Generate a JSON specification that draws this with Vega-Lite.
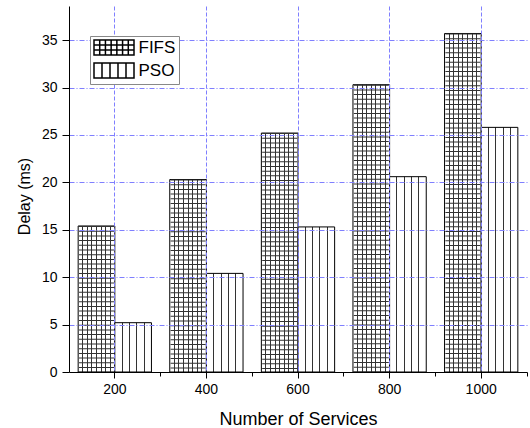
{
  "$schema": "https://vega.github.io/schema/vega-lite/v6.json",
  "width": 458,
  "height": 366,
  "autosize": {"type": "none"},
  "padding": {"left": 69, "top": 6, "right": 3, "bottom": 56},
  "background": "white",
  "config": {
    "view": {"stroke": null},
    "font": "Liberation Sans",
    "axis": {
      "domainColor": "black",
      "tickColor": "black",
      "labelColor": "black",
      "titleColor": "black",
      "titleFontWeight": "normal",
      "labelFont": "Liberation Sans",
      "titleFont": "Liberation Sans"
    }
  },
  "data": {
    "values": [
      {"n": 200, "series": "FIFS", "delay": 15.4},
      {"n": 400, "series": "FIFS", "delay": 20.3},
      {"n": 600, "series": "FIFS", "delay": 25.2},
      {"n": 800, "series": "FIFS", "delay": 30.3},
      {"n": 1000, "series": "FIFS", "delay": 35.7},
      {"n": 200, "series": "PSO", "delay": 5.2},
      {"n": 400, "series": "PSO", "delay": 10.4},
      {"n": 600, "series": "PSO", "delay": 15.3},
      {"n": 800, "series": "PSO", "delay": 20.6},
      {"n": 1000, "series": "PSO", "delay": 25.8}
    ]
  },
  "resolve": {"axis": {"x": "independent"}},
  "layer": [
    {
      "transform": [{"filter": "datum.series === 'FIFS'"}],
      "mark": {
        "type": "bar",
        "stroke": "black",
        "strokeWidth": 1,
        "fill": {
          "gradient": "linear", "x1": 0, "x2": 1, "y1": 0, "y2": 0,
          "stops": [
            {"offset": 0, "color": "white"},
            {"offset": 0.111, "color": "white"}, {"offset": 0.111, "color": "#333"}, {"offset": 0.139, "color": "#333"}, {"offset": 0.139, "color": "white"},
            {"offset": 0.236, "color": "white"}, {"offset": 0.236, "color": "#333"}, {"offset": 0.264, "color": "#333"}, {"offset": 0.264, "color": "white"},
            {"offset": 0.361, "color": "white"}, {"offset": 0.361, "color": "#333"}, {"offset": 0.389, "color": "#333"}, {"offset": 0.389, "color": "white"},
            {"offset": 0.486, "color": "white"}, {"offset": 0.486, "color": "#333"}, {"offset": 0.514, "color": "#333"}, {"offset": 0.514, "color": "white"},
            {"offset": 0.611, "color": "white"}, {"offset": 0.611, "color": "#333"}, {"offset": 0.639, "color": "#333"}, {"offset": 0.639, "color": "white"},
            {"offset": 0.736, "color": "white"}, {"offset": 0.736, "color": "#333"}, {"offset": 0.764, "color": "#333"}, {"offset": 0.764, "color": "white"},
            {"offset": 0.861, "color": "white"}, {"offset": 0.861, "color": "#333"}, {"offset": 0.889, "color": "#333"}, {"offset": 0.889, "color": "white"},
            {"offset": 1, "color": "white"}
          ]
        }
      },
      "encoding": {
        "x": {
          "field": "n", "type": "ordinal",
          "scale": {"paddingInner": 0.2, "paddingOuter": 0.1},
          "axis": {
            "title": "Number of Services", "orient": "bottom", "labelAngle": 0,
            "tickSize": 6, "labelPadding": 4, "labelFontSize": 14,
            "titleFontSize": 18, "titlePadding": 14,
            "grid": true, "gridColor": "#7f7fff", "gridDash": [4, 2],
            "bandPosition": 0.5, "zindex": 1
          }
        },
        "xOffset": {"field": "series", "type": "nominal", "scale": {"paddingInner": 0, "paddingOuter": 0}},
        "y": {
          "field": "delay", "type": "quantitative",
          "scale": {"domain": [0, 38.6], "nice": false},
          "axis": {
            "title": "Delay (ms)",
            "values": [0, 2.5, 5, 7.5, 10, 12.5, 15, 17.5, 20, 22.5, 25, 27.5, 30, 32.5, 35, 37.5],
            "labelExpr": "datum.value % 5 === 0 ? format(datum.value, 'd') : ''",
            "tickSize": {"condition": {"test": "datum.value % 5 === 0", "value": 7}, "value": 3},
            "labelPadding": 5, "labelFontSize": 14,
            "titleFontSize": 16, "titlePadding": 9, "titleY": 190,
            "grid": true, "gridColor": "#7f7fff", "gridDash": [5, 2, 1, 2],
            "gridOpacity": {"condition": {"test": "datum.value % 5 === 0 && datum.value > 0", "value": 1}, "value": 0},
            "zindex": 1
          }
        }
      }
    },
    {
      "transform": [{"filter": "datum.series === 'PSO'"}],
      "mark": {
        "type": "bar",
        "stroke": "black",
        "strokeWidth": 1,
        "fill": {
          "gradient": "linear", "x1": 0, "x2": 1, "y1": 0, "y2": 0,
          "stops": [
            {"offset": 0, "color": "white"},
            {"offset": 0.186, "color": "white"}, {"offset": 0.186, "color": "#333"}, {"offset": 0.214, "color": "#333"}, {"offset": 0.214, "color": "white"},
            {"offset": 0.386, "color": "white"}, {"offset": 0.386, "color": "#333"}, {"offset": 0.414, "color": "#333"}, {"offset": 0.414, "color": "white"},
            {"offset": 0.586, "color": "white"}, {"offset": 0.586, "color": "#333"}, {"offset": 0.614, "color": "#333"}, {"offset": 0.614, "color": "white"},
            {"offset": 0.786, "color": "white"}, {"offset": 0.786, "color": "#333"}, {"offset": 0.814, "color": "#333"}, {"offset": 0.814, "color": "white"},
            {"offset": 1, "color": "white"}
          ]
        }
      },
      "encoding": {
        "x": {"field": "n", "type": "ordinal", "axis": null},
        "xOffset": {"field": "series", "type": "nominal"},
        "y": {"field": "delay", "type": "quantitative"}
      }
    },
    {
      "transform": [{"filter": "datum.series === 'FIFS'"}],
      "mark": {"type": "rule", "strokeWidth": 35, "strokeDash": [1, 3.7], "color": "#333", "strokeCap": "butt"},
      "encoding": {
        "x": {"field": "n", "type": "ordinal", "axis": null},
        "xOffset": {"field": "series", "type": "nominal"},
        "y": {"field": "delay", "type": "quantitative"},
        "y2": {"datum": 0}
      }
    },
    {
      "mark": {"type": "point", "opacity": 0, "color": "black"},
      "encoding": {
        "x": {
          "field": "n", "type": "ordinal",
          "axis": {
            "orient": "bottom", "bandPosition": 1.125, "labels": false, "grid": false,
            "domain": false, "title": null, "tickSize": 4, "tickColor": "black"
          }
        },
        "xOffset": {"field": "series", "type": "nominal"},
        "y": {"field": "delay", "type": "quantitative"},
        "shape": {
          "field": "series", "type": "nominal",
          "scale": {
            "domain": ["FIFS", "PSO"],
            "range": [
              "M-2.667,-1H2.667V1H-2.667Z M-1.905,-1V1 M-1.143,-1V1 M-0.381,-1V1 M0.381,-1V1 M1.143,-1V1 M1.905,-1V1 M-2.667,-0.333H2.667 M-2.667,0.333H2.667",
              "M-2.667,-1H2.667V1H-2.667Z M-1.6,-1V1 M-0.533,-1V1 M0.533,-1V1 M1.6,-1V1"
            ]
          },
          "legend": {
            "title": null, "orient": "none", "legendX": 21, "legendY": 30,
            "padding": 3, "strokeColor": "#888888", "fillColor": "white",
            "labelFont": "Liberation Sans", "labelFontSize": 17, "labelColor": "black",
            "labelOffset": 16, "rowPadding": 2, "symbolSize": 225, "symbolOffset": 12.5,
            "zindex": 2,
            "encode": {
              "symbols": {
                "update": {
                  "opacity": {"value": 1},
                  "stroke": {"value": "black"},
                  "strokeWidth": {"value": 1},
                  "fill": {"value": "transparent"}
                }
              }
            }
          }
        }
      }
    }
  ]
}
